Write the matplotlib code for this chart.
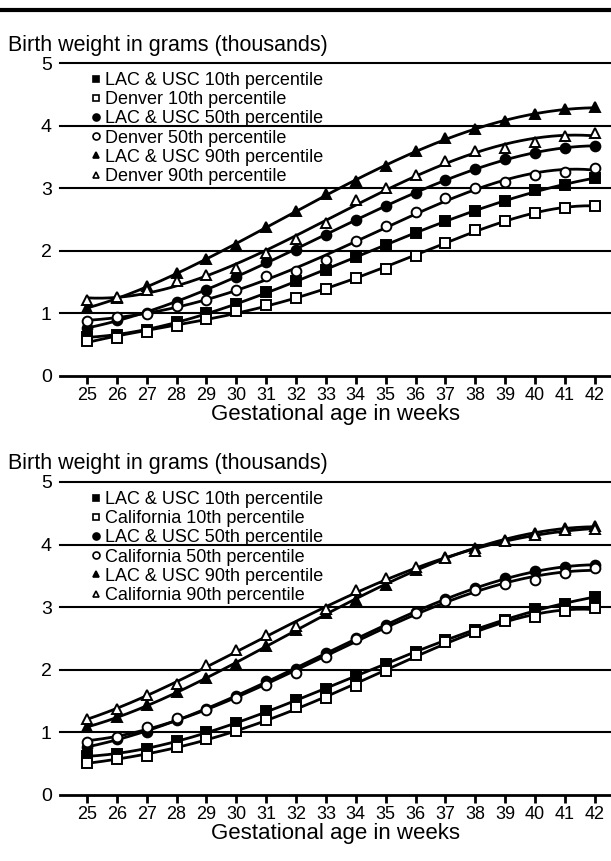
import numpy as np
import matplotlib
matplotlib.use('Agg')
import matplotlib.pyplot as plt
from matplotlib.lines import Line2D

plt.rcParams['font.family'] = ['Liberation Sans', 'DejaVu Sans']

# gestational age in weeks
weeks = [25, 26, 27, 28, 29, 30, 31, 32, 33, 34, 35, 36, 37, 38, 39, 40, 41, 42]

# LAC & USC percentiles (same in both panels), birth weight in kg
lac_10 = [0.63, 0.65, 0.73, 0.86, 1.00, 1.15, 1.34, 1.52, 1.70, 1.90, 2.09, 2.28, 2.47, 2.64, 2.80, 2.97, 3.05, 3.16]
lac_50 = [0.76, 0.90, 1.01, 1.19, 1.38, 1.58, 1.82, 2.02, 2.26, 2.50, 2.71, 2.93, 3.13, 3.30, 3.46, 3.57, 3.64, 3.68]
lac_90 = [1.08, 1.24, 1.43, 1.64, 1.87, 2.10, 2.38, 2.63, 2.90, 3.11, 3.36, 3.60, 3.80, 3.95, 4.07, 4.18, 4.26, 4.29]

# Denver
denver_10 = [0.56, 0.61, 0.71, 0.80, 0.91, 1.04, 1.13, 1.25, 1.39, 1.56, 1.71, 1.92, 2.13, 2.34, 2.48, 2.61, 2.68, 2.72]
denver_50 = [0.88, 0.94, 0.99, 1.12, 1.22, 1.38, 1.59, 1.67, 1.85, 2.15, 2.39, 2.62, 2.85, 3.00, 3.10, 3.21, 3.26, 3.33]
denver_90 = [1.21, 1.26, 1.37, 1.51, 1.61, 1.72, 1.96, 2.19, 2.45, 2.81, 3.00, 3.21, 3.44, 3.59, 3.65, 3.74, 3.83, 3.88]

# California
california_10 = [0.51, 0.57, 0.63, 0.77, 0.90, 1.02, 1.19, 1.40, 1.55, 1.74, 1.98, 2.23, 2.45, 2.61, 2.78, 2.85, 2.94, 2.98]
california_50 = [0.85, 0.93, 1.08, 1.23, 1.35, 1.55, 1.75, 1.95, 2.21, 2.49, 2.67, 2.91, 3.10, 3.27, 3.37, 3.44, 3.55, 3.62]
california_90 = [1.21, 1.38, 1.59, 1.78, 2.07, 2.32, 2.55, 2.70, 2.97, 3.28, 3.46, 3.64, 3.79, 3.89, 4.06, 4.15, 4.23, 4.25]

y_ticks = [0, 1, 2, 3, 4, 5]


def draw_panel(ax, other_name, other_10, other_50, other_90):
    series = [
        ('LAC & USC 10th percentile', lac_10, 's', 'black'),
        (other_name + ' 10th percentile', other_10, 's', 'white'),
        ('LAC & USC 50th percentile', lac_50, 'o', 'black'),
        (other_name + ' 50th percentile', other_50, 'o', 'white'),
        ('LAC & USC 90th percentile', lac_90, '^', 'black'),
        (other_name + ' 90th percentile', other_90, '^', 'white'),
    ]
    x = np.array(weeks)
    xs = np.linspace(x[0], x[-1], 200)
    handles = []
    for label, vals, marker, face in series:
        # smooth fitted curve like the original figure
        coeffs = np.polyfit(x, vals, 4)
        ax.plot(xs, np.polyval(coeffs, xs), color='black', lw=2, zorder=2)
        ax.plot(x, vals, linestyle='none', marker=marker, ms=7, mfc=face,
                mec='black', mew=1.4, zorder=3)
        handles.append(Line2D([], [], linestyle='none', marker=marker, ms=5,
                              mfc=face, mec='black', mew=1.2, label=label))

    for yv in y_ticks[1:]:
        ax.axhline(yv, color='black', lw=1.5, zorder=1, clip_on=False)

    ax.set_xlim(24.1, 42.54)
    ax.set_ylim(0, 5)
    ax.set_xticks(weeks)
    ax.set_yticks(y_ticks)
    for s in ['top', 'right', 'left']:
        ax.spines[s].set_visible(False)
    ax.spines['bottom'].set_linewidth(2)
    ax.tick_params(axis='x', direction='out', length=6, width=2, labelsize=13, pad=2)
    ax.tick_params(axis='y', length=0, labelsize=14, pad=6)
    ax.set_xlabel('Gestational age in weeks', fontsize=16, labelpad=0)
    ax.text(-0.094, 1.024, 'Birth weight in grams (thousands)', transform=ax.transAxes,
            fontsize=15.5, ha='left', va='bottom')
    ax.legend(handles=handles, loc='upper left', bbox_to_anchor=(0.04, 1.0),
              frameon=False, fontsize=13, handletextpad=0.15, labelspacing=0.12,
              handlelength=0.6, borderaxespad=0.2, borderpad=0.3)


fig = plt.figure(figsize=(6.11, 8.61), dpi=100)
ax_top = fig.add_axes([0.0982, 0.5633, 0.9018, 0.3635])
ax_bot = fig.add_axes([0.0982, 0.0767, 0.9018, 0.3635])

draw_panel(ax_top, 'Denver', denver_10, denver_50, denver_90)
draw_panel(ax_bot, 'California', california_10, california_50, california_90)

# heavy rule across the top of the figure
fig.add_artist(Line2D([0, 1], [0.988, 0.988], transform=fig.transFigure,
                      color='black', lw=3))

fig.savefig('out.png', dpi=100)
